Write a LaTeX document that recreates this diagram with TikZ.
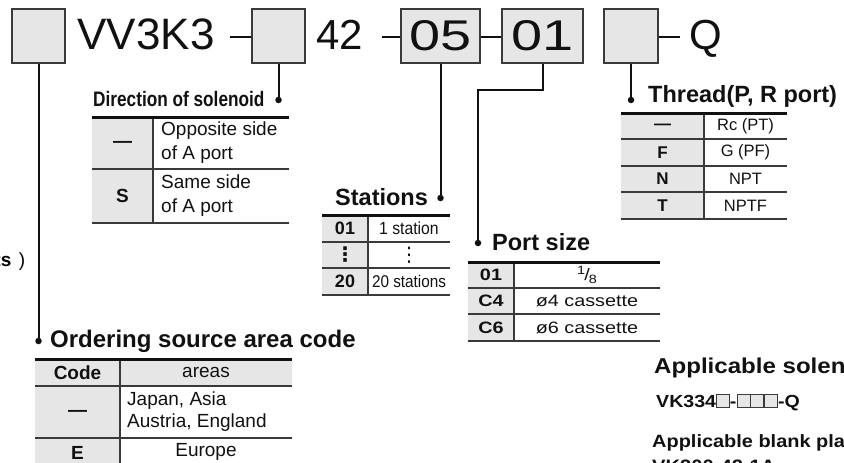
\documentclass[tikz,border=0pt]{standalone}
\usepackage{fontspec}
\setmainfont{Liberation Sans}
\newfontfamily\narrowfont[FakeStretch=0.82]{Liberation Sans}
\newfontfamily\condfont[FakeStretch=0.9]{Liberation Sans}
\newfontfamily\widefont[FakeStretch=1.2]{Liberation Sans}
\newfontfamily\boxfont[FakeStretch=1.3]{Liberation Sans}
\newfontfamily\notefont[FakeStretch=1.12]{Liberation Sans}
\newfontfamily\symfont{DejaVu Sans}
\definecolor{boxgray}{HTML}{E6E6E6}
\definecolor{rulegray}{HTML}{3A3A3A}
\definecolor{inkblack}{HTML}{111111}
\newcommand{\fsz}[1]{\fontsize{#1}{#1}\selectfont}
\newcommand{\sqmark}{{\fboxsep=0pt\fboxrule=0.8pt\fcolorbox{rulegray}{boxgray}{\rule{0pt}{0.7em}\rule{0.7em}{0pt}}}}

\tikzset{
  codebox/.style={draw=rulegray, line width=2pt, fill=boxgray, inner sep=0pt,
    minimum height=54pt, font=\boxfont\fsz{43}, text=inkblack},
  codetext/.style={font=\fsz{43}, anchor=base, inner sep=0pt, text=inkblack},
  joint/.style={line width=2.6pt, inkblack},
  link/.style={line width=2pt, inkblack},
  dot/.style={circle, fill=inkblack, inner sep=0pt, minimum size=6.5pt},
  title/.style={font=\bfseries\fsz{23.5}, anchor=base west, inner sep=0pt, text=inkblack},
  topline/.style={line width=3pt, inkblack},
  rowline/.style={line width=1.2pt, rulegray},
  colline/.style={line width=1.5pt, rulegray},
  keycell/.style={font=\bfseries\fsz{19}, inner sep=0pt, text=inkblack},
  valcell/.style={font=\fsz{19}, inner sep=0pt, text=inkblack, align=center},
  note/.style={font=\bfseries\notefont\fsz{17.8}, anchor=base west, inner sep=0pt, text=inkblack}
}

\begin{document}
\begin{tikzpicture}[x=1pt,y=-1pt]
\useasboundingbox (0,0) rectangle (844,463);
\clip (0,0) rectangle (844,463);

% part number
\node[codebox, minimum width=53pt] (b1) at (38.5,36) {};
\node[codetext, font=\fsz{44}] (t1) at (146,49) {VV3K3};
\node[codebox, minimum width=53pt] (b2) at (278.5,36) {};
\node[codetext, font=\fsz{42}] (t2) at (340,49) {42};
\node[codebox, minimum width=79pt] (b3) at (440.5,36) {05};
\node[codebox, minimum width=81pt] (b4) at (542.5,36) {01};
\node[codebox, minimum width=54pt] (b5) at (631,36) {};
\node[codetext, font=\fsz{42}] (t5) at (706,49) {Q};

\coordinate (h1) at (230,37);
\coordinate (h2) at (382,37);
\coordinate (h3) at (680,37);
\draw[joint] (h1) -- (h1 -| b2.west);
\draw[joint] (h2) -- (h2 -| b3.west);
\draw[joint] (b3.east |- h1) -- (b4.west |- h1);
\draw[joint] (b5.east |- h1) -- (h3);

% leaders
\node[dot] (d1) at (38.5,341) {};
\node[dot] (d2) at (278.5,100) {};
\node[dot] (d3) at (440.5,198) {};
\node[dot] (d4) at (478,243) {};
\node[dot] (d5) at (631,100) {};
\coordinate (k4) at (542.5,90);
\draw[link] (b1.south) -- (d1);
\draw[link] (b2.south) -- (d2);
\draw[link] (b3.south) -- (d3);
\draw[link] (b4.south) -- (k4) -| (d4);
\draw[link] (b5.south) -- (d5);

% left note (cut off)
\node[font=\fsz{19}, anchor=east, inner sep=0pt] (leftnote) at (25.5,262) {\textbf{ts}\hspace{0.4em})};

% Direction of solenoid
\node[title, font=\bfseries\narrowfont\fsz{21}] (dirT) at (93,106) {Direction of solenoid};
\fill[boxgray] (92,117) rectangle (153,223);
\draw[rowline] (92,169) -- (289,169) (92,223) -- (289,223);
\draw[colline] (153,117) -- (153,223);
\draw[topline] (92,117) -- (289,117);
\node[keycell] (dirK1) at (122.5,144) {—};
\node[keycell] (dirK2) at (122.5,196) {S};
\node[valcell, align=left, anchor=west, font=\fontsize{19}{24}\selectfont] (dirV1) at (161,143) {Opposite side\\of A port};
\node[valcell, align=left, anchor=west, font=\fontsize{19}{24}\selectfont] (dirV2) at (161,196) {Same side\\of A port};

% Stations
\node[title] (staT) at (335,205) {Stations};
\fill[boxgray] (322,215) rectangle (368,295);
\draw[rowline] (322,242) -- (450,242) (322,268) -- (450,268) (322,295) -- (450,295);
\draw[colline] (368,215) -- (368,295);
\draw[topline] (322,215) -- (450,215);
\node[keycell, font=\bfseries\fsz{18}] (staK1) at (345,228.5) {01};
\node[keycell, font=\bfseries\symfont\fsz{20}] (staK2) at (345,255) {⋮};
\node[keycell, font=\bfseries\fsz{18}] (staK3) at (345,281.5) {20};
\node[valcell, font=\condfont\fsz{17.5}] (staV1) at (409,228.5) {1 station};
\node[valcell, font=\symfont\fsz{20}] (staV2) at (409,255) {⋮};
\node[valcell, font=\condfont\fsz{17}] (staV3) at (409,281.5) {20 stations};

% Thread
\node[title] (thrT) at (648,102) {Thread(P, R port)};
\fill[boxgray] (621,113) rectangle (704,219);
\draw[rowline] (621,139) -- (787,139) (621,166) -- (787,166) (621,192) -- (787,192) (621,219) -- (787,219);
\draw[colline] (704,113) -- (704,219);
\draw[topline] (621,113) -- (787,113);
\node[keycell, font=\bfseries\fsz{17}] (thrK1) at (662.5,127) {—};
\node[keycell, font=\bfseries\fsz{17}] (thrK2) at (662.5,152.5) {F};
\node[keycell, font=\bfseries\fsz{17}] (thrK3) at (662.5,179) {N};
\node[keycell, font=\bfseries\fsz{17}] (thrK4) at (662.5,205.5) {T};
\node[valcell, font=\fsz{16.5}] (thrV1) at (745.5,126) {Rc (PT)};
\node[valcell, font=\fsz{16.5}] (thrV2) at (745.5,152.5) {G (PF)};
\node[valcell, font=\fsz{16.5}] (thrV3) at (745.5,179) {NPT};
\node[valcell, font=\fsz{16.5}] (thrV4) at (745.5,205.5) {NPTF};

% Port size
\node[title] (porT) at (492,250) {Port size};
\fill[boxgray] (468,262) rectangle (514,341);
\draw[rowline] (468,288) -- (660,288) (468,314) -- (660,314) (468,341) -- (660,341);
\draw[colline] (514,262) -- (514,341);
\draw[topline] (468,262) -- (660,262);
\node[keycell, font=\bfseries\widefont\fsz{16.5}] (porK1) at (491,275) {01};
\node[keycell, font=\bfseries\widefont\fsz{16.5}] (porK2) at (491,301) {C4};
\node[keycell, font=\bfseries\widefont\fsz{16.5}] (porK3) at (491,327.5) {C6};
\node[valcell, font=\widefont\fsz{16.5}] (porV1) at (587,275) {\raisebox{0.35em}{\fsz{12}1}\kern-0.05em/\kern-0.05em\raisebox{-0.15em}{\fsz{12}8}};
\node[valcell, font=\widefont\fsz{16.5}] (porV2) at (587,301) {ø4 cassette};
\node[valcell, font=\widefont\fsz{16.5}] (porV3) at (587,327.5) {ø6 cassette};

% Ordering source area code
\node[title, font=\bfseries\fsz{24}] (ordT) at (50,347) {Ordering source area code};
\fill[boxgray] (35,359) rectangle (292,386);
\fill[boxgray] (35,386) rectangle (120,470);
\draw[rowline] (35,386) -- (292,386) (35,438) -- (292,438);
\draw[colline] (120,359) -- (120,470);
\draw[topline] (35,359) -- (292,359);
\node[keycell] (ordK1) at (77.5,372.5) {Code};
\node[keycell] (ordK2) at (77.5,413) {—};
\node[keycell] (ordK3) at (77.5,452.5) {E};
\node[valcell] (ordV1) at (206,372.5) {areas};
\node[valcell, align=left, anchor=west, font=\fontsize{19}{22}\selectfont] (ordV2) at (127,412) {Japan, Asia\\Austria, England};
\node[valcell] (ordV3) at (206,452) {Europe};

% notes at right (cut off)
\node[note, font=\bfseries\notefont\fsz{21.5}] (solT) at (654,373) {Applicable solenoid valve};
\node[note, font=\bfseries\notefont\fsz{17.5}] (solV) at (656,407) {VK334\sqmark-\sqmark\sqmark\sqmark-Q};
\node[note] (plaT) at (652,447) {Applicable blank plate};
\node[note, font=\bfseries\notefont\fsz{18}] (plaV) at (652,472) {VK300-42-1A};
\end{tikzpicture}
\end{document}
